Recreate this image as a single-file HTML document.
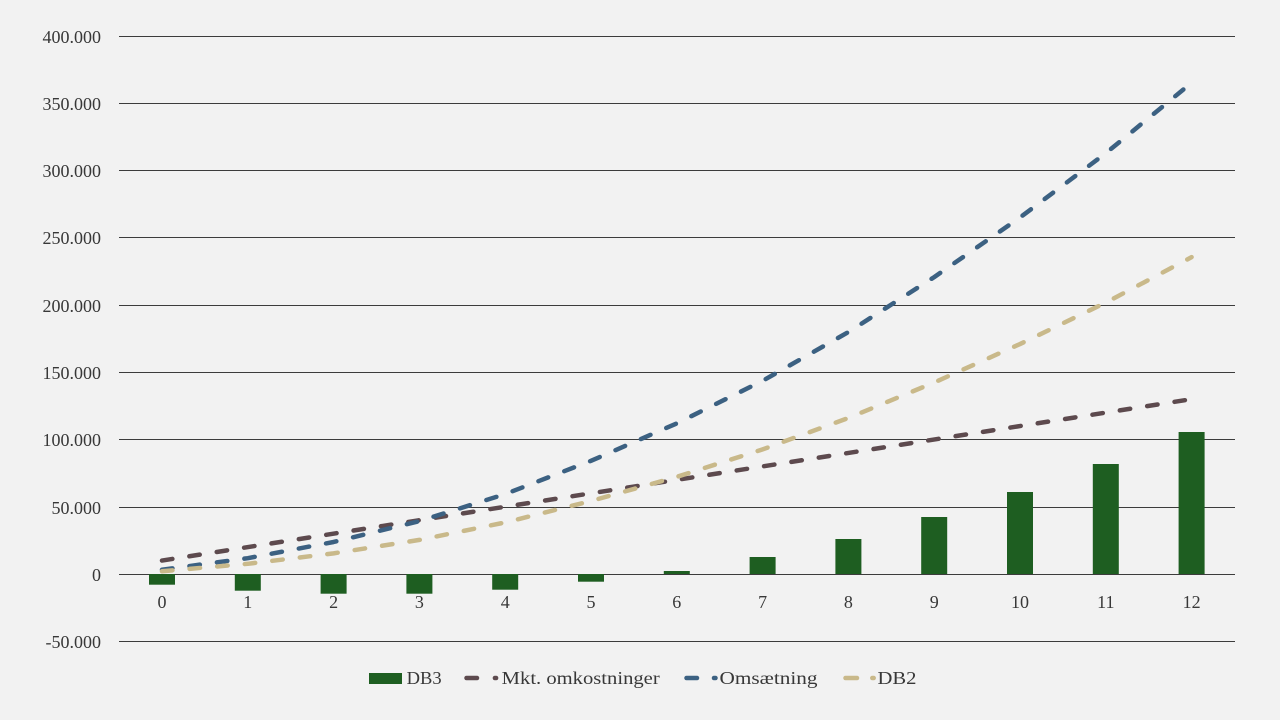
<!DOCTYPE html>
<html>
<head>
<meta charset="utf-8">
<style>
  html, body { margin: 0; padding: 0; background: #f2f2f2; }
  svg { display: block; }
  text { font-family: "Liberation Serif", "DejaVu Serif", serif; fill: #383838; font-size: 18px; }
</style>
</head>
<body>
<svg width="1280" height="720" viewBox="0 0 1280 720" xmlns="http://www.w3.org/2000/svg">
  <rect x="0" y="0" width="1280" height="720" fill="#f2f2f2"/>

  <!-- gridlines -->
  <g stroke="#3c3c3c" stroke-width="1" shape-rendering="crispEdges">
    <line x1="119" y1="36.5" x2="1235" y2="36.5"/>
    <line x1="119" y1="103.5" x2="1235" y2="103.5"/>
    <line x1="119" y1="170.5" x2="1235" y2="170.5"/>
    <line x1="119" y1="237.5" x2="1235" y2="237.5"/>
    <line x1="119" y1="305.5" x2="1235" y2="305.5"/>
    <line x1="119" y1="372.5" x2="1235" y2="372.5"/>
    <line x1="119" y1="439.5" x2="1235" y2="439.5"/>
    <line x1="119" y1="507.5" x2="1235" y2="507.5"/>
    <line x1="119" y1="574.5" x2="1235" y2="574.5"/>
    <line x1="119" y1="641.5" x2="1235" y2="641.5"/>
  </g>

  <!-- y labels -->
  <g text-anchor="end">
    <text x="101" y="43">400.000</text>
    <text x="101" y="110">350.000</text>
    <text x="101" y="177">300.000</text>
    <text x="101" y="244">250.000</text>
    <text x="101" y="312">200.000</text>
    <text x="101" y="379">150.000</text>
    <text x="101" y="446">100.000</text>
    <text x="101" y="514">50.000</text>
    <text x="101" y="581">0</text>
    <text x="101" y="648">-50.000</text>
  </g>

  <!-- bars DB3 -->
  <g fill="#1e5e21">
    <rect x="149" y="574" width="26" height="10.7"/>
    <rect x="234.8" y="574" width="26" height="16.7"/>
    <rect x="320.6" y="574" width="26" height="19.7"/>
    <rect x="406.4" y="574" width="26" height="19.7"/>
    <rect x="492.2" y="574" width="26" height="15.7"/>
    <rect x="578" y="574" width="26" height="7.7"/>
    <rect x="663.8" y="571" width="26" height="3"/>
    <rect x="749.6" y="557" width="26" height="17"/>
    <rect x="835.4" y="539" width="26" height="35"/>
    <rect x="921.2" y="517" width="26" height="57"/>
    <rect x="1007" y="492" width="26" height="82"/>
    <rect x="1092.8" y="464" width="26" height="110"/>
    <rect x="1178.6" y="432" width="26" height="142"/>
  </g>

  <!-- x labels -->
  <g text-anchor="middle">
    <text x="162" y="608">0</text>
    <text x="247.8" y="608">1</text>
    <text x="333.6" y="608">2</text>
    <text x="419.4" y="608">3</text>
    <text x="505.2" y="608">4</text>
    <text x="591" y="608">5</text>
    <text x="676.8" y="608">6</text>
    <text x="762.6" y="608">7</text>
    <text x="848.4" y="608">8</text>
    <text x="934.2" y="608">9</text>
    <text x="1020" y="608">10</text>
    <text x="1105.8" y="608">11</text>
    <text x="1191.6" y="608">12</text>
  </g>

  <!-- lines -->
  <g fill="none" stroke-width="4.5" stroke-linecap="round" stroke-linejoin="round" stroke-dasharray="10.5 17.2">
    <!-- Mkt. omkostninger -->
    <polyline stroke="#5d4a4e" points="162,560.55 1191.6,399.15"/>
    <!-- Omsætning -->
    <polyline stroke="#3c6182" points="162,569.74 247.8,558.19 333.6,541.98 419.4,521.13 505.2,494.08 591,460.82 676.8,423.38 762.6,380.82 848.4,332.06 934.2,277.1 1020,217.49 1105.8,153.22 1191.6,82.76"/>
    <!-- DB2 -->
    <polyline stroke="#c9b98a" points="162,571.25 247.8,563.8 333.6,553.35 419.4,539.9 505.2,522.45 591,501 676.8,476.85 762.6,449.4 848.4,417.95 934.2,382.5 1020,344.05 1105.8,302.6 1191.6,257.15"/>
  </g>

  <!-- legend -->
  <rect x="369" y="673" width="33" height="11" fill="#1e5e21"/>
  <text x="406.7" y="684" textLength="35" lengthAdjust="spacingAndGlyphs">DB3</text>

  <g stroke-width="4.5" stroke-linecap="round">
    <line x1="466.5" y1="678" x2="477" y2="678" stroke="#5d4a4e"/>
    <line x1="494.9" y1="678" x2="496.1" y2="678" stroke="#5d4a4e"/>
    <line x1="686.5" y1="678" x2="697" y2="678" stroke="#3c6182"/>
    <line x1="714" y1="678" x2="715.5" y2="678" stroke="#3c6182"/>
    <line x1="845.5" y1="678" x2="857" y2="678" stroke="#c9b98a"/>
    <line x1="872.3" y1="678" x2="873.7" y2="678" stroke="#c9b98a"/>
  </g>
  <text x="501.7" y="684" textLength="158" lengthAdjust="spacingAndGlyphs">Mkt. omkostninger</text>
  <text x="719.5" y="684" textLength="98" lengthAdjust="spacingAndGlyphs">Omsætning</text>
  <text x="877.5" y="684" textLength="39" lengthAdjust="spacingAndGlyphs">DB2</text>
</svg>
</body>
</html>
